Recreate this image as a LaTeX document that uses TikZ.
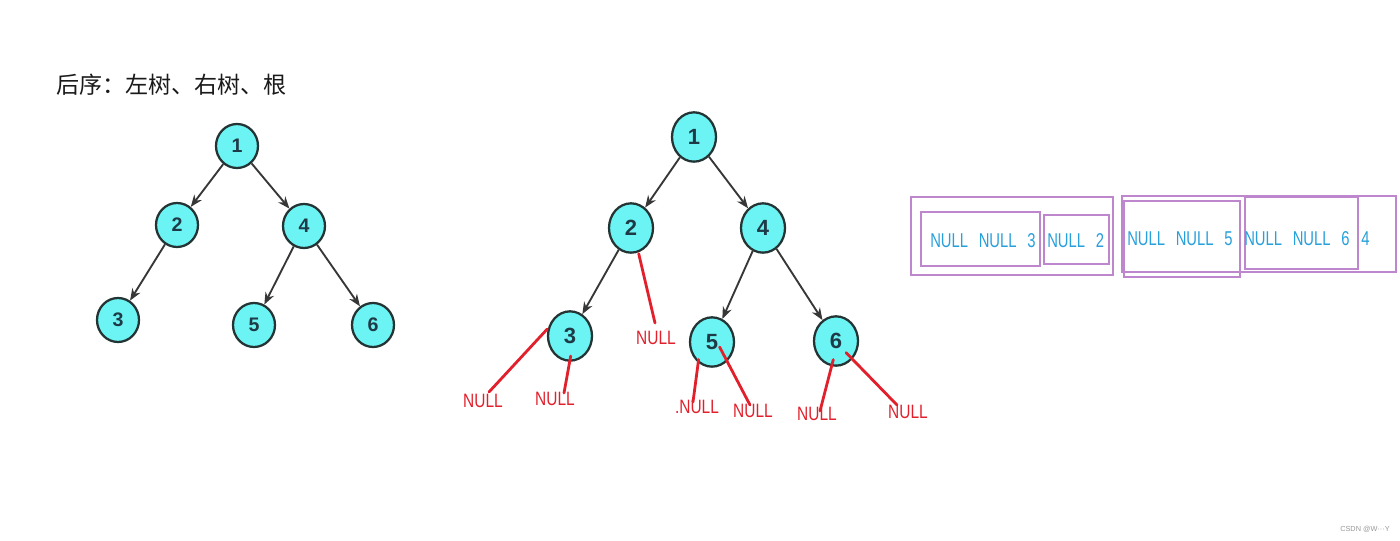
\documentclass[tikz,border=0pt]{standalone}
\usepackage{fontspec}
\setmainfont{Liberation Sans}
\newfontfamily\cjktitlefont{Noto Sans CJK SC}
\newfontfamily\redlabelfont[FakeStretch=0.8]{Liberation Sans}
\newfontfamily\bluelabelfont[FakeStretch=0.74,WordSpace=2.6]{Liberation Sans}
\usetikzlibrary{shapes.geometric,arrows.meta}
\definecolor{nodecyan}{RGB}{108,244,244}
\definecolor{nodeedge}{RGB}{36,52,52}
\definecolor{digitcolor}{RGB}{30,58,70}
\definecolor{arrowgray}{RGB}{55,55,55}
\definecolor{nullred}{RGB}{226,32,44}
\definecolor{seqblue}{RGB}{40,160,220}
\definecolor{boxpurple}{RGB}{190,135,205}
\definecolor{titleblack}{RGB}{26,26,26}
\begin{document}
\begin{tikzpicture}[x=0.75pt,y=-0.75pt,
  treenode/.style={ellipse, draw=nodeedge, fill=nodecyan, line width=1.7pt, inner sep=0pt,
    font=\fontsize{14.7}{15}\selectfont\bfseries, text=digitcolor,
    minimum width=31.5pt, minimum height=33pt},
  bignode/.style={treenode, minimum width=33pt, minimum height=37pt,
    font=\fontsize{16.5}{17}\selectfont\bfseries},
  edge/.style={draw=arrowgray, line width=1.4pt, -{Stealth[length=9pt,width=7pt]}},
  nulline/.style={draw=nullred, line width=2.1pt, line cap=round},
  nulllabel/.style={text=nullred, font=\redlabelfont\fontsize{14.5}{15}\selectfont, inner sep=0pt},
  seqbox/.style={draw=boxpurple, line width=0.8pt},
  seqtext/.style={text=seqblue, font=\bluelabelfont\fontsize{15}{16}\selectfont, inner sep=0pt, anchor=west}
]
\useasboundingbox (0,0) rectangle (1400,541);
\fill[white] (0,0) rectangle (1400,541);

% title
\node[anchor=west, inner sep=0pt, text=titleblack, font=\cjktitlefont\fontsize{17.3}{18}\selectfont] (title) at (56,85) {后序：左树、右树、根};

% left tree
\node[treenode] (a1) at (237,146) {1};
\node[treenode] (a2) at (177,225) {2};
\node[treenode] (a4) at (304,226) {4};
\node[treenode] (a3) at (118,320) {3};
\node[treenode] (a5) at (254,325) {5};
\node[treenode] (a6) at (373,325) {6};
\draw[edge] (a1) -- (a2);
\draw[edge] (a1) -- (a4);
\draw[edge] (a2) -- (a3);
\draw[edge] (a4) -- (a5);
\draw[edge] (a4) -- (a6);

% right tree
\node[bignode] (b1) at (694,137) {1};
\node[bignode] (b2) at (631,228) {2};
\node[bignode] (b4) at (763,228) {4};
\node[bignode] (b3) at (570,336) {3};
\node[bignode] (b5) at (712,342) {5};
\node[bignode] (b6) at (836,341) {6};
\draw[edge] (b1) -- (b2);
\draw[edge] (b1) -- (b4);
\draw[edge] (b2) -- (b3);
\draw[edge] (b4) -- (b5);
\draw[edge] (b4) -- (b6);

% NULL labels
\node[nulllabel] (n31) at (483,401) {NULL};
\node[nulllabel] (n32) at (555,399) {NULL};
\node[nulllabel] (n2)  at (656,338) {NULL};
\node[nulllabel] (n51) at (697,407) {.NULL};
\node[nulllabel] (n52) at (753,411) {NULL};
\node[nulllabel] (n61) at (817,414) {NULL};
\node[nulllabel] (n62) at (908,412) {NULL};

\coordinate (e31) at (489,392);
\coordinate (e32) at (564,393);
\coordinate (e2)  at (655,323);
\coordinate (e51) at (693,402);
\coordinate (e52) at (750,405);
\coordinate (e61) at (820,411);
\coordinate (e62) at (897,405);

\draw[nulline] ([shift={(-22.7,-7)}]b3.center) -- (e31);
\draw[nulline] ([shift={(0.7,20)}]b3.center) -- (e32);
\draw[nulline] ([shift={(7.7,25.7)}]b2.center) -- (e2);
\draw[nulline] ([shift={(-13.4,17.6)}]b5.center) -- (e51);
\draw[nulline] ([shift={(7.6,5)}]b5.center) -- (e52);
\draw[nulline] ([shift={(-2.7,18.6)}]b6.center) -- (e61);
\draw[nulline] ([shift={(10,11.6)}]b6.center) -- (e62);

% sequence boxes
\draw[seqbox] (911,197) rectangle (1113,275);
\draw[seqbox] (921,212) rectangle (1040,266);
\draw[seqbox] (1044,215) rectangle (1109,264);
\draw[seqbox] (1122,196) rectangle (1396,272);
\draw[seqbox] (1124,201) rectangle (1240,277);
\draw[seqbox] (1245,197) rectangle (1358,269);

\node[seqtext] (s3) at (930,241) {NULL NULL 3};
\node[seqtext] (s2) at (1047,241) {NULL 2};
\node[seqtext] (s5) at (1127,239) {NULL NULL 5};
\node[seqtext] (s6) at (1244,239) {NULL NULL 6};
\node[seqtext] (s4) at (1361,239) {4};

% watermark
\node[inner sep=0pt, text=black!40, font=\fontsize{5.5}{6}\selectfont] (wm) at (1365,529) {CSDN @W···Y};
\end{tikzpicture}
\end{document}
